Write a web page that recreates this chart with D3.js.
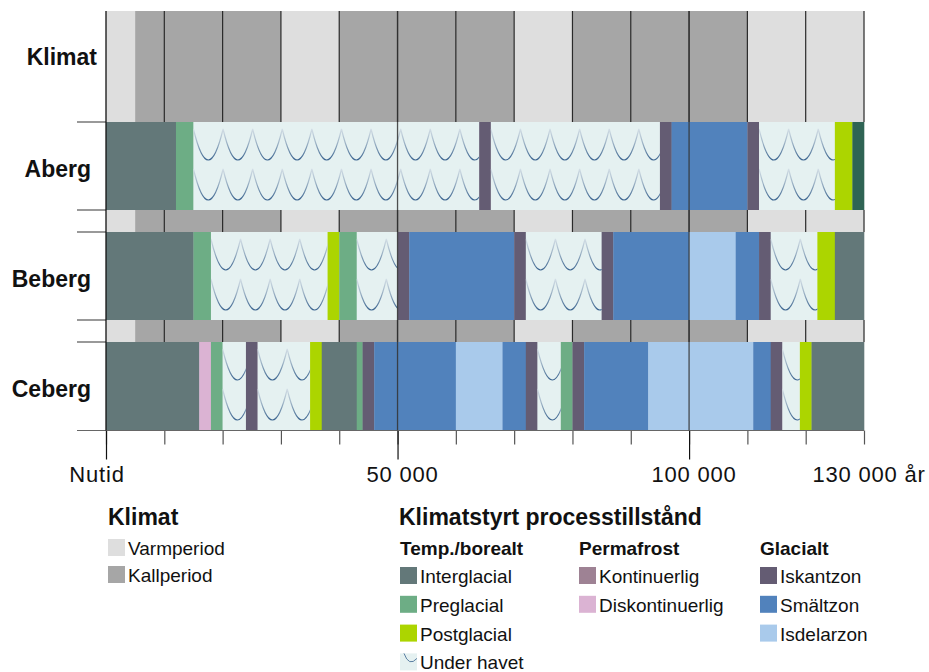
<!DOCTYPE html>
<html>
<head>
<meta charset="utf-8">
<script src="https://cdn.jsdelivr.net/npm/d3@7"></script>
<style>
body { margin: 0; background: #fff; }
svg { display: block; font-family: "Liberation Sans", Arial, sans-serif; }
</style>
</head>
<body>
<svg id="chart" width="929" height="672"></svg>
<script>
// gränser i år före nutid + tillstånd mellan gränserna
var klimatBreaks = [0, 5000, 30000, 40000, 70000, 80000, 110000, 130000];
var klimatTypes = ["Varmperiod", "Kallperiod", "Varmperiod", "Kallperiod", "Varmperiod", "Kallperiod", "Varmperiod"];

var abergBreaks = [0, 12000, 15000, 64000, 66000, 95000, 97000, 110000, 112000, 125000, 128000, 130000];
var abergTypes = ["Interglacial", "Preglacial", "Under havet", "Iskantzon", "Under havet", "Iskantzon",
    "Smältzon", "Iskantzon", "Under havet", "Postglacial", "Tempererat"];

var bebergBreaks = [0, 15000, 18000, 38000, 40000, 43000, 50000, 52000, 70000, 72000, 85000, 87000,
    100000, 108000, 112000, 114000, 122000, 125000, 130000];
var bebergTypes = ["Interglacial", "Preglacial", "Under havet", "Postglacial", "Preglacial", "Under havet",
    "Iskantzon", "Smältzon", "Iskantzon", "Under havet", "Iskantzon", "Smältzon", "Isdelarzon", "Smältzon",
    "Iskantzon", "Under havet", "Postglacial", "Interglacial"];

var cebergBreaks = [0, 16000, 18000, 20000, 24000, 26000, 35000, 37000, 43000, 44000, 46000, 60000, 68000,
    72000, 74000, 78000, 80000, 82000, 93000, 111000, 114000, 116000, 119000, 121000, 130000];
var cebergTypes = ["Interglacial", "Diskontinuerlig", "Preglacial", "Under havet", "Iskantzon", "Under havet",
    "Postglacial", "Interglacial", "Preglacial", "Iskantzon", "Smältzon", "Isdelarzon", "Smältzon", "Iskantzon",
    "Under havet", "Preglacial", "Iskantzon", "Smältzon", "Isdelarzon", "Smältzon", "Iskantzon", "Under havet",
    "Postglacial", "Interglacial"];

var minorTicks = [0, 10000, 20000, 30000, 40000, 50000, 60000, 70000, 80000, 90000, 100000, 110000, 120000, 130000];
var majorTicks = [0, 50000, 100000, 130000];
var majorLabels = ["Nutid", "50 000", "100 000", "130 000 år"];

var legendKlimat = ["Varmperiod", "Kallperiod"];
var legendTemp = ["Interglacial", "Preglacial", "Postglacial", "Under havet"];
var legendPerma = ["Kontinuerlig", "Diskontinuerlig"];
var legendGlac = ["Iskantzon", "Smältzon", "Isdelarzon"];

var colors = {
    "Varmperiod": "#dedede", "Kallperiod": "#a6a6a6",
    "Interglacial": "#637879", "Preglacial": "#6dad85", "Postglacial": "#acd500",
    "Under havet": "#e5f1f1", "Tempererat": "#2f6454",
    "Kontinuerlig": "#9e8294", "Diskontinuerlig": "#dbb3d3",
    "Iskantzon": "#645c73", "Smältzon": "#5182bc", "Isdelarzon": "#a9caeb"
};

var svg = d3.select("#chart");
var x = d3.scaleLinear().domain([0, 130000]).range([106, 864]);
var waveP = 29.6;

function segs(breaks, types) {
    return types.map(function (t, i) { return { x0: breaks[i], x1: breaks[i + 1], type: t }; });
}

var rows = [
    { label: "Klimat", breaks: klimatBreaks, types: klimatTypes, y: 11, h: 111, grid: true },
    { label: "Aberg", breaks: abergBreaks, types: abergTypes, y: 122, h: 88 },
    { label: null, breaks: klimatBreaks, types: klimatTypes, y: 210, h: 22, grid: true },
    { label: "Beberg", breaks: bebergBreaks, types: bebergTypes, y: 232, h: 88 },
    { label: null, breaks: klimatBreaks, types: klimatTypes, y: 320, h: 22, grid: true },
    { label: "Ceberg", breaks: cebergBreaks, types: cebergTypes, y: 342, h: 88 }
];

var defs = svg.append("defs");
var grad = defs.append("linearGradient").attr("id", "waveGrad")
    .attr("x1", 0).attr("y1", 0).attr("x2", 0).attr("y2", 1);
grad.append("stop").attr("offset", "0%").attr("stop-color", "#d3dee6");
grad.append("stop").attr("offset", "45%").attr("stop-color", "#9fb4c6");
grad.append("stop").attr("offset", "100%").attr("stop-color", "#3c6590");

function wavePath(xa, xb, yt, amp) {
    var p = "M" + xa + "," + yt;
    for (var cx = xa; cx < xb; cx += waveP) {
        p += " Q" + (cx + waveP / 2) + "," + (yt + 2 * amp) + " " + (cx + waveP) + "," + yt;
    }
    return p;
}

var clipN = 0;
rows.forEach(function (row) {
    var g = svg.append("g");
    var data = segs(row.breaks, row.types);
    g.selectAll("rect").data(data).enter().append("rect")
        .attr("x", function (d) { return x(d.x0); })
        .attr("y", row.y)
        .attr("width", function (d) { return x(d.x1) - x(d.x0) + 0.3; })
        .attr("height", row.h)
        .attr("fill", function (d) { return colors[d.type]; });

    // vågmönster för "Under havet"
    data.filter(function (d) { return d.type === "Under havet"; }).forEach(function (d) {
        var id = "clip" + (clipN++);
        defs.append("clipPath").attr("id", id).append("rect")
            .attr("x", x(d.x0)).attr("y", row.y).attr("width", x(d.x1) - x(d.x0)).attr("height", row.h);
        var wg = g.append("g").attr("clip-path", "url(#" + id + ")");
        [7, 47].forEach(function (off) {
            wg.append("path")
                .attr("d", wavePath(x(d.x0), x(d.x1), row.y + off, 31))
                .attr("fill", "none")
                .attr("stroke", "url(#waveGrad)")
                .attr("stroke-width", 1.2);
        });
    });

    if (row.grid) {
        g.selectAll("line.grid").data(minorTicks.slice(1)).enter().append("line")
            .attr("class", "grid")
            .attr("x1", function (d) { return x(d); }).attr("x2", function (d) { return x(d); })
            .attr("y1", row.y).attr("y2", row.y + row.h)
            .attr("stroke", "#2a2a2a").attr("stroke-width", 1.2);
    }

    if (row.label) {
        svg.append("text")
            .attr("x", row.label === "Klimat" ? 97 : 91)
            .attr("y", row.label === "Klimat" ? 65 : row.y + row.h / 2 + 11)
            .attr("text-anchor", "end")
            .attr("font-size", "23px")
            .attr("font-weight", "bold")
            .attr("fill", "#111")
            .text(row.label);
    }
});

// korta linjer till vänster om raderna
svg.selectAll("line.sep").data([122, 210, 232, 320, 342]).enter().append("line")
    .attr("class", "sep")
    .attr("x1", 77).attr("x2", 106)
    .attr("y1", function (d) { return d; }).attr("y2", function (d) { return d; })
    .attr("stroke", "#555").attr("stroke-width", 1.2);

// axel
var axisY = 430.5;
var minorAxis = d3.axisBottom(x).tickValues(minorTicks).tickSize(14).tickFormat("");
var gMinor = svg.append("g").attr("transform", "translate(0," + axisY + ")").call(minorAxis);
gMinor.select(".domain").remove();
gMinor.selectAll(".tick line").attr("stroke", "#555").attr("stroke-width", 1.2);

var majorAxis = d3.axisBottom(x).tickValues(majorTicks.slice(0, 3)).tickSize(29).tickFormat("");
var gMajor = svg.append("g").attr("transform", "translate(0," + axisY + ")").call(majorAxis);
gMajor.select(".domain").remove();
gMajor.selectAll(".tick line").attr("stroke", "#111").attr("stroke-width", 1.2);

svg.append("line").attr("x1", 77).attr("x2", x(130000)).attr("y1", axisY).attr("y2", axisY)
    .attr("stroke", "#666").attr("stroke-width", 1.2);

svg.selectAll("text.tl").data(majorTicks).enter().append("text")
    .attr("class", "tl")
    .attr("x", function (d, i) { return x(d) + (i === 0 ? -9 : 5); })
    .attr("y", 482)
    .attr("text-anchor", "middle")
    .attr("font-size", "22px")
    .attr("letter-spacing", "0.8px")
    .attr("fill", "#111")
    .text(function (d, i) { return majorLabels[i]; });

// långa linjer vid 0, 50 000, 100 000
svg.selectAll("line.full").data(majorTicks.slice(0, 3)).enter().append("line")
    .attr("class", "full")
    .attr("x1", function (d) { return x(d); }).attr("x2", function (d) { return x(d); })
    .attr("y1", 11).attr("y2", axisY)
    .attr("stroke", function (d) { return d === 0 ? "#111" : "#333"; })
    .attr("stroke-opacity", function (d) { return d === 0 ? 1 : 0.85; })
    .attr("stroke-width", 1.3);

// teckenförklaring
function heading(tx, ty, txt, size) {
    svg.append("text").attr("x", tx).attr("y", ty)
        .attr("font-size", size).attr("font-weight", "bold").attr("fill", "#111").text(txt);
}
function legendGroup(items, lx, ly, step) {
    var lg = svg.append("g").selectAll("g").data(items).enter().append("g")
        .attr("transform", function (d, i) { return "translate(" + lx + "," + (ly + i * step) + ")"; });
    lg.append("rect").attr("width", 17).attr("height", 17)
        .attr("fill", function (d) { return colors[d]; });
    lg.filter(function (d) { return d === "Under havet"; }).append("path")
        .attr("d", "M4,0 Q9,14 17,5").attr("fill", "none")
        .attr("stroke", "#5b7fa2").attr("stroke-width", 1);
    lg.append("text").attr("x", 20).attr("y", 16)
        .attr("font-size", "19px").attr("fill", "#111")
        .text(function (d) { return d; });
}

heading(108, 525, "Klimat", "23px");
legendGroup(legendKlimat, 108, 539, 27);

heading(399, 525, "Klimatstyrt processtillstånd", "23px");
heading(400, 555, "Temp./borealt", "19px");
heading(579, 555, "Permafrost", "19px");
heading(760, 555, "Glacialt", "19px");
legendGroup(legendTemp, 400, 567, 28.8);
legendGroup(legendPerma, 579, 567, 28.8);
legendGroup(legendGlac, 760, 567, 28.8);
</script>
</body>
</html>
